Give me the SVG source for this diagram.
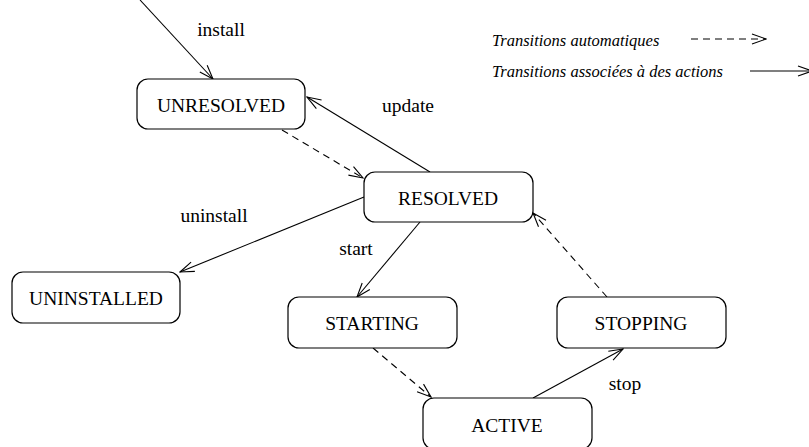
<svg xmlns="http://www.w3.org/2000/svg" width="809" height="447" viewBox="0 0 809 447">
<defs>
<style>
.box{fill:#fff;stroke:#000;stroke-width:1.2}
.t{font-family:"Liberation Serif","Times New Roman",serif;font-size:19.5px;fill:#000;text-anchor:middle}
.lg{font-family:"Liberation Serif","Times New Roman",serif;font-size:16.5px;font-style:italic;fill:#000}
.e{fill:none;stroke:#000;stroke-width:1.1}
.d{stroke-dasharray:7,5}
</style>
<marker id="ah" markerWidth="16" markerHeight="12" refX="15" refY="6" orient="auto" markerUnits="userSpaceOnUse">
<path d="M1,1 L15,6 L1,11" fill="none" stroke="#000" stroke-width="1.1"/>
</marker>
</defs>
<rect width="809" height="447" fill="#fff"/>
<g id="connectors">
<line class="e" x1="140" y1="0" x2="213" y2="79" marker-end="url(#ah)"/>
<line class="e" x1="430" y1="172" x2="307" y2="97" marker-end="url(#ah)"/>
<line class="e d" x1="282" y1="130" x2="363" y2="178" marker-end="url(#ah)"/>
<line class="e" x1="364" y1="197" x2="180" y2="272" marker-end="url(#ah)"/>
<line class="e" x1="420" y1="222" x2="357" y2="297" marker-end="url(#ah)"/>
<line class="e d" x1="607" y1="297" x2="533" y2="213" marker-end="url(#ah)"/>
<line class="e d" x1="373" y1="348" x2="431" y2="397" marker-end="url(#ah)"/>
<line class="e" x1="533" y1="398" x2="623" y2="349" marker-end="url(#ah)"/>
<line class="e d" x1="691" y1="39" x2="766" y2="39" marker-end="url(#ah)"/>
<line class="e" x1="750" y1="71" x2="812" y2="71" marker-end="url(#ah)"/>
</g>
<g id="labels">
<text class="t" x="221" y="36">install</text>
<text class="t" x="408" y="112">update</text>
<text class="t" x="214" y="222">uninstall</text>
<text class="t" x="356" y="255">start</text>
<text class="t" x="625" y="390">stop</text>
<text class="lg" x="492" y="46">Transitions automatiques</text>
<text class="lg" x="492" y="77">Transitions associées à des actions</text>
</g>
<g id="UNRESOLVED">
<rect class="box" x="137" y="79" width="168" height="50" rx="11"/>
<text class="t" x="221" y="112">UNRESOLVED</text>
</g>
<g id="RESOLVED">
<rect class="box" x="364" y="172" width="169" height="50" rx="11"/>
<text class="t" x="448" y="205">RESOLVED</text>
</g>
<g id="UNINSTALLED">
<rect class="box" x="12" y="272" width="168" height="51" rx="11"/>
<text class="t" x="96" y="305">UNINSTALLED</text>
</g>
<g id="STARTING">
<rect class="box" x="288" y="297" width="169" height="51" rx="11"/>
<text class="t" x="372" y="330">STARTING</text>
</g>
<g id="STOPPING">
<rect class="box" x="557" y="297" width="169" height="51" rx="11"/>
<text class="t" x="641" y="330">STOPPING</text>
</g>
<g id="ACTIVE">
<rect class="box" x="423" y="398" width="169" height="51" rx="11"/>
<text class="t" x="507" y="432">ACTIVE</text>
</g>
</svg>
